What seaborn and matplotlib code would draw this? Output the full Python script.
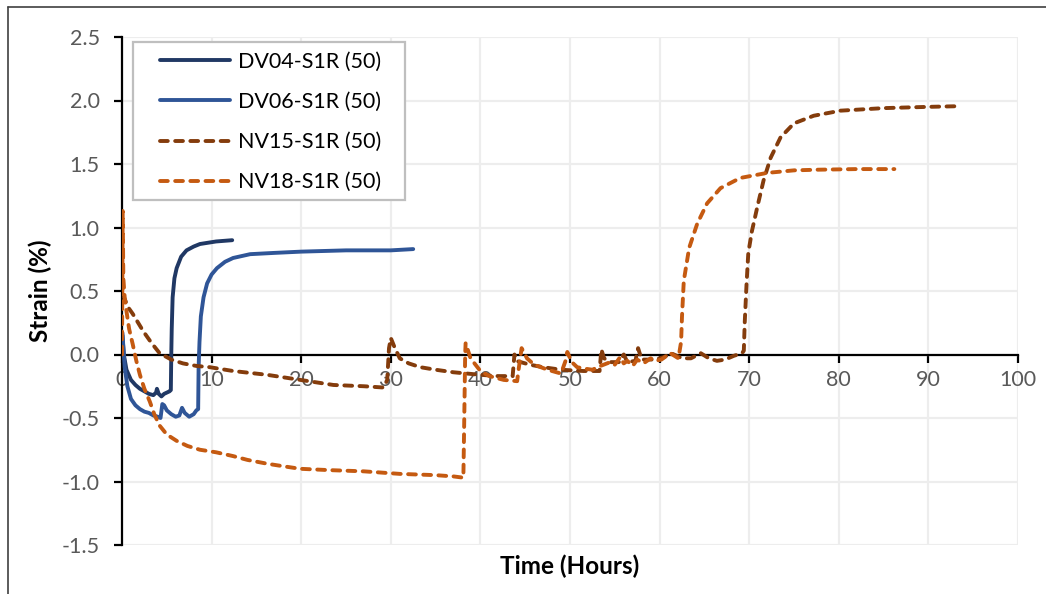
import matplotlib
matplotlib.use("Agg")
import matplotlib.pyplot as plt
from matplotlib.lines import Line2D
from matplotlib.patches import Rectangle
import seaborn as sns
import pandas as pd

# ---- data ----
dv04_t = [0.05, 0.2, 0.5, 1.0, 1.5, 2.0, 2.5, 3.0, 3.5, 3.8, 3.9, 4.1, 4.4, 4.7, 5.0, 5.3, 5.45,
          5.5, 5.55, 5.65, 5.85, 6.1, 6.6, 7.2, 8.0, 8.7, 10.5, 12.3]
dv04_v = [0.15, 0.0, -0.12, -0.2, -0.24, -0.27, -0.29, -0.31, -0.32, -0.3, -0.27, -0.31, -0.33, -0.31,
          -0.3, -0.29, -0.28, 0.0, 0.2, 0.45, 0.6, 0.68, 0.77, 0.82, 0.85, 0.87, 0.89, 0.9]

dv06_t = [0.05, 0.3, 0.6, 1.0, 1.5, 2.0, 2.5, 3.0, 3.5, 4.0, 4.3, 4.5, 4.7, 5.0, 5.5, 6.0, 6.4, 6.7,
          7.0, 7.5, 8.0, 8.3, 8.5, 8.55, 8.65, 8.8, 9.1, 9.5, 10.0, 10.6, 11.5, 12.4, 14.3, 17, 20, 25,
          30, 32.5]
dv06_v = [0.17, -0.1, -0.25, -0.35, -0.4, -0.43, -0.45, -0.46, -0.48, -0.49, -0.5, -0.39, -0.4, -0.44,
          -0.47, -0.49, -0.48, -0.42, -0.46, -0.49, -0.47, -0.44, -0.43, -0.1, 0.1, 0.3, 0.45, 0.56,
          0.63, 0.68, 0.73, 0.76, 0.79, 0.8, 0.81, 0.82, 0.82, 0.83]

nv15_t = [0.1, 0.7, 1.2, 2.4, 3.3, 4.2, 5.5, 6.8, 8.3, 9.8, 12.4, 16.2, 19.9, 23.6, 27, 29.2, 29.6,
          29.8, 30.0, 30.4, 31, 32, 33.3, 35, 37, 40, 42, 43.6, 43.8, 44.0, 45.5, 47, 49, 51.5, 53.3,
          53.5, 53.8, 54.5, 55.5, 56, 56.4, 57.3, 57.6, 58, 59.5, 60.5, 61.3, 62.5, 63.5, 64.6, 65.5,
          66.4, 67.3, 68.3, 69.2, 69.4, 69.5, 69.7, 69.9, 70.3, 70.9, 71.6, 72.4, 73.5, 75, 77.2,
          80.2, 85, 90, 93.3]
nv15_v = [0.47, 0.37, 0.32, 0.18, 0.09, 0.01, -0.04, -0.07, -0.09, -0.1, -0.13, -0.16, -0.2, -0.24,
          -0.25, -0.26, -0.2, 0.05, 0.13, 0.06, -0.03, -0.07, -0.1, -0.12, -0.14, -0.16, -0.17, -0.17,
          0.0, -0.05, -0.08, -0.1, -0.12, -0.13, -0.13, 0.04, -0.03, -0.06, -0.06, 0.0, -0.06, -0.05,
          0.05, -0.04, -0.04, -0.02, 0.01, -0.03, -0.03, 0.01, -0.03, -0.05, -0.04, -0.01, 0.01, 0.03,
          0.25, 0.55, 0.8, 0.97, 1.16, 1.37, 1.55, 1.71, 1.82, 1.88, 1.92, 1.94, 1.95, 1.955]

nv18_t = [0.0, 0.08, 0.15, 0.3, 0.5, 0.8, 1.2, 1.6, 2.0, 2.5, 3.1, 3.6, 4.2, 5.0, 6.1, 7.3, 8.7, 10.5,
          12.4, 14, 16.2, 18, 19.9, 23, 27, 31, 35, 37, 38.1, 38.2, 38.3, 38.35, 38.9, 40, 41, 42.6,
          44.1, 44.3, 44.6, 45.2, 46, 47.5, 49, 49.5, 49.7, 50.2, 50.8, 51.5, 52.5, 53.4, 54.5, 55,
          55.6, 56, 56.4, 57, 57.5, 58.2, 59, 59.5, 60.2, 61.2, 62.1, 62.4, 62.5, 62.7, 63.3, 64.2,
          65.3, 66.8, 69, 72, 75, 77.6, 82, 86.2]
nv18_v = [0.0, 1.13, 0.6, 0.45, 0.34, 0.2, 0.08, -0.05, -0.16, -0.27, -0.37, -0.47, -0.56, -0.63,
          -0.68, -0.72, -0.75, -0.77, -0.8, -0.83, -0.86, -0.88, -0.9, -0.91, -0.92, -0.94, -0.95,
          -0.96, -0.97, -0.5, 0.0, 0.09, -0.03, -0.13, -0.17, -0.2, -0.21, -0.1, 0.05, -0.03, -0.08,
          -0.12, -0.15, -0.05, 0.02, -0.06, -0.1, -0.11, -0.12, -0.09, -0.06, -0.08, -0.02, -0.07,
          -0.05, -0.09, -0.04, -0.07, -0.03, -0.05, -0.04, 0.01, -0.03, 0.1, 0.3, 0.58, 0.84, 1.03,
          1.19, 1.31, 1.39, 1.43, 1.45, 1.455, 1.46, 1.46]

series_names = ["DV04-S1R (50)", "DV06-S1R (50)", "NV15-S1R (50)", "NV18-S1R (50)"]
x_ticks = [0, 10, 20, 30, 40, 50, 60, 70, 80, 90, 100]
y_ticks = [-1.5, -1.0, -0.5, 0.0, 0.5, 1.0, 1.5, 2.0, 2.5]

# ---- styling ----
sns.set_theme(style="white")
plt.rcParams["font.family"] = ["Lato", "DejaVu Sans"]

colors = ["#203864", "#2F5597", "#843C0C", "#C55A11"]
dashed = [False, False, True, True]
data = [(dv04_t, dv04_v), (dv06_t, dv06_v), (nv15_t, nv15_v), (nv18_t, nv18_v)]
dash_pat = (2.0, 1.9)

W, H = 1046, 594
fig = plt.figure(figsize=(W / 100, H / 100), dpi=100)
ax = fig.add_axes([122 / W, 1 - 545 / H, (1018 - 122) / W, (545 - 37) / H])

lw = 2.8
for (t, v), name, c, d in zip(data, series_names, colors, dashed):
    df = pd.DataFrame({"Time": t, "Strain": v})
    sns.lineplot(data=df, x="Time", y="Strain", ax=ax, color=c, sort=False,
                 estimator=None, linewidth=lw, label=name, legend=False)
    line = ax.lines[-1]
    line.set_zorder(3)
    if d:
        line.set_dashes(dash_pat)
        line.set_dash_capstyle("round")
    else:
        line.set_solid_capstyle("round")
    line.set_solid_joinstyle("round")

ax.set_xlim(0, 100)
ax.set_ylim(-1.5, 2.5)
ax.set_xticks(x_ticks)
ax.set_yticks(y_ticks)
ax.set_xticklabels([str(v) for v in x_ticks])
ax.set_yticklabels([f"{v:.1f}" for v in y_ticks])

# grid
ax.grid(True, color="#EDEDED", linewidth=1.6)
ax.set_axisbelow(True)

# spines
for s in ["top", "right"]:
    ax.spines[s].set_visible(False)
ax.spines["bottom"].set_position(("data", 0))
ax.spines["bottom"].set_color("black")
ax.spines["bottom"].set_linewidth(1.6)
ax.spines["bottom"].set_zorder(2.5)
ax.spines["left"].set_color("black")
ax.spines["left"].set_linewidth(1.6)

ax.tick_params(axis="both", which="both", direction="out", length=6, width=1.6,
               color="black", labelcolor="#595959", labelsize=15.5)
ax.tick_params(axis="x", bottom=True, pad=5)
ax.tick_params(axis="y", left=True, pad=10)

ax.set_xlabel("Time (Hours)", fontsize=17.5, fontweight="bold", color="black")
ax.set_ylabel("Strain (%)", fontsize=17.5, fontweight="bold", color="black")
ax.xaxis.set_label_coords((570 - 122) / 896, -(555 - 545) / 508)
ax.yaxis.set_label_coords((52 - 122) / 896, 0.5)

# legend
handles = [Line2D([0], [0], color=c, linewidth=lw,
                  linestyle=(0, dash_pat) if d else "-",
                  dash_capstyle="round", solid_capstyle="round")
           for c, d in zip(colors, dashed)]
leg = ax.legend(handles, series_names, loc="upper left",
                bbox_to_anchor=((160 - 122) / 896, 1 - (52 - 37) / 508),
                borderaxespad=0, frameon=False, fontsize=15.5, handlelength=3.25,
                handletextpad=0.35, labelspacing=0.93, borderpad=0)
leg.set_zorder(6)
for txt in leg.get_texts():
    txt.set_color("black")
ax.add_patch(Rectangle(((133 - 122) / 896, (545 - 200) / 508), (405 - 133) / 896, (200 - 42) / 508,
                       transform=ax.transAxes, facecolor="white", edgecolor="#BFBFBF",
                       linewidth=1.6, zorder=5))

# figure border (left and top)
fig.add_artist(Line2D([8 / W, 8 / W], [0, 1 - 7 / H], transform=fig.transFigure,
                      color="#404040", linewidth=1.2))
fig.add_artist(Line2D([8 / W, 1], [1 - 7 / H, 1 - 7 / H], transform=fig.transFigure,
                      color="#404040", linewidth=1.2))

fig.savefig("out.png", dpi=100, facecolor="white")
